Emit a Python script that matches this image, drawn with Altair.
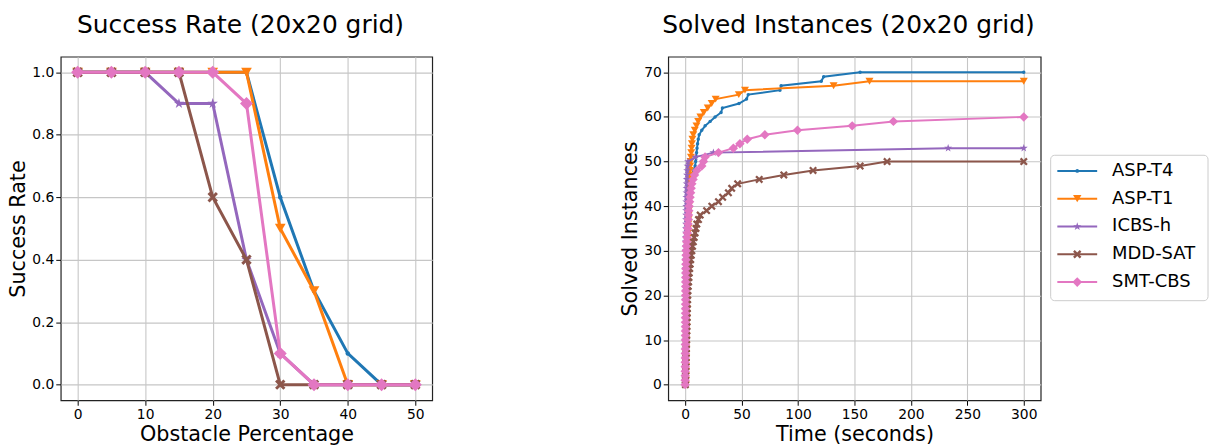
import altair as alt
import pandas as pd

FONT = "DejaVu Sans"

# ---------------- series definitions ----------------
series = ["ASP-T4", "ASP-T1", "ICBS-h", "MDD-SAT", "SMT-CBS"]
colors = ["#1f77b4", "#ff7f0e", "#9467bd", "#8c564b", "#e377c2"]
X_PATH = "M-1,-0.6L-0.6,-1L0,-0.4L0.6,-1L1,-0.6L0.4,0L1,0.6L0.6,1L0,0.4L-0.6,1L-1,0.6L-0.4,0Z"
STAR_PATH = ("M0,-1L0.2245,-0.309L0.951,-0.309L0.3633,0.118L0.5878,0.809L0,0.382"
             "L-0.5878,0.809L-0.3633,0.118L-0.951,-0.309L-0.2245,-0.309Z")
shapes = ["circle", "triangle-down", STAR_PATH, X_PATH, "diamond"]

# ---------------- left panel: success rate ----------------
obstacle_pct = [0, 5, 10, 15, 20, 25, 30, 35, 40, 45, 50]
rate_asp_t4 = [1.0, 1.0, 1.0, 1.0, 1.0, 1.0, 0.6, 0.3, 0.1, 0.0, 0.0]
rate_asp_t1 = [1.0, 1.0, 1.0, 1.0, 1.0, 1.0, 0.5, 0.3, 0.0, 0.0, 0.0]
rate_icbs_h = [1.0, 1.0, 1.0, 0.9, 0.9, 0.4, 0.1, 0.0, 0.0, 0.0, 0.0]
rate_mdd_sat = [1.0, 1.0, 1.0, 1.0, 0.6, 0.4, 0.0, 0.0, 0.0, 0.0, 0.0]
rate_smt_cbs = [1.0, 1.0, 1.0, 1.0, 1.0, 0.9, 0.1, 0.0, 0.0, 0.0, 0.0]
rates = [rate_asp_t4, rate_asp_t1, rate_icbs_h, rate_mdd_sat, rate_smt_cbs]

# ---------------- right panel: solved instances over time ----------------
time_asp_t4 = [0.5, 0.55, 0.6, 0.65, 0.7, 0.75, 0.8, 0.85, 0.9, 0.95, 1.0, 1.05, 1.1, 1.15, 1.2,
               1.25, 1.3, 1.35, 1.4, 1.45, 1.5, 1.55, 1.6, 1.65, 1.7, 1.75, 1.8, 1.85, 1.9, 1.95,
               2.0, 2.1, 2.2, 2.3, 2.4, 2.5, 2.6, 2.7, 2.8, 2.9, 3.0, 3.1, 3.2, 3.3, 3.4, 3.6,
               4.0, 5.5, 7.5, 8.8, 9.3, 9.7, 10.1, 10.5, 11.0, 11.6, 12.4, 14.7, 17.7, 22.1,
               26.5, 31.8, 33.0, 47.7, 54.4, 55.9, 84.0, 85.0, 120.6, 122.7, 155.0, 300.0]
solved_asp_t4 = [0, 1, 2, 3, 4, 5, 6, 7, 8, 9, 10, 11, 12, 13, 14, 15, 16, 17, 18, 19, 20, 21,
                 22, 23, 24, 25, 26, 27, 28, 29, 30, 31, 32, 33, 34, 35, 36, 37, 38, 39, 40, 41,
                 42, 43, 44, 45, 46, 47, 48, 49, 50, 51, 52, 53, 54, 55, 56, 57, 58, 59, 60, 61,
                 62, 63, 64, 65, 66, 67, 68, 69, 70, 70]

time_asp_t1 = [0.6, 0.65, 0.7, 0.75, 0.8, 0.85, 0.9, 0.95, 1.0, 1.05, 1.1, 1.15, 1.2, 1.25, 1.3,
               1.35, 1.4, 1.45, 1.5, 1.55, 1.6, 1.65, 1.7, 1.75, 1.8, 1.85, 1.9, 1.95, 2.0, 2.1,
               2.2, 2.3, 2.4, 2.5, 2.6, 2.7, 2.8, 2.9, 3.0, 3.1, 3.2, 3.3, 3.4, 3.5, 3.6, 3.7,
               3.8, 4.0, 4.2, 4.5, 4.8, 5.1, 5.4, 5.7, 6.0, 6.4, 7.2, 8.5, 10.0, 11.5, 13.5,
               16.5, 20.0, 23.5, 27.0, 47.5, 53.0, 131.5, 163.3, 300.0]
solved_asp_t1 = [0, 1, 2, 3, 4, 5, 6, 7, 8, 9, 10, 11, 12, 13, 14, 15, 16, 17, 18, 19, 20, 21,
                 22, 23, 24, 25, 26, 27, 28, 29, 30, 31, 32, 33, 34, 35, 36, 37, 38, 39, 40, 41,
                 42, 43, 44, 45, 46, 47, 48, 49, 50, 51, 52, 53, 54, 55, 56, 57, 58, 59, 60, 61,
                 62, 63, 64, 65, 66, 67, 68, 68]

time_icbs_h = [0.0, 0.02, 0.04, 0.05, 0.06, 0.07, 0.08, 0.09, 0.1, 0.11, 0.12, 0.13, 0.14, 0.15,
               0.16, 0.17, 0.18, 0.19, 0.2, 0.22, 0.24, 0.26, 0.28, 0.3, 0.32, 0.34, 0.36, 0.38,
               0.4, 0.43, 0.46, 0.5, 0.54, 0.58, 0.62, 0.66, 0.7, 0.75, 0.8, 0.85, 0.9, 0.95,
               1.0, 1.1, 1.2, 1.3, 1.4, 1.6, 1.8, 2.1, 2.5, 9.0, 25.0, 233.0, 300.0]
solved_icbs_h = [0, 1, 2, 3, 4, 5, 6, 7, 8, 9, 10, 11, 12, 13, 14, 15, 16, 17, 18, 19, 20, 21,
                 22, 23, 24, 25, 26, 27, 28, 29, 30, 31, 32, 33, 34, 35, 36, 37, 38, 39, 40, 41,
                 42, 43, 44, 45, 46, 47, 48, 49, 50, 51, 52, 53, 53]

time_mdd_sat = [0.2, 0.3, 0.4, 0.5, 0.6, 0.7, 0.8, 0.9, 1.0, 1.1, 1.2, 1.3, 1.4, 1.5, 1.6, 1.7,
                1.8, 1.9, 2.0, 2.1, 2.2, 2.4, 2.7, 3.0, 3.3, 3.6, 4.0, 4.4, 4.9, 5.4, 5.9, 6.5,
                7.2, 8.0, 8.8, 9.6, 10.3, 11.8, 13.3, 19.0, 23.6, 29.5, 33.2, 38.3, 41.2, 46.5,
                65.6, 87.4, 113.3, 155.0, 178.9, 300.0]
solved_mdd_sat = [0, 1, 2, 3, 4, 5, 6, 7, 8, 9, 10, 11, 12, 13, 14, 15, 16, 17, 18, 19, 20, 21,
                  22, 23, 24, 25, 26, 27, 28, 29, 30, 31, 32, 33, 34, 35, 36, 37, 38, 39, 40, 41,
                  42, 43, 44, 45, 46, 47, 48, 49, 50, 50]

time_smt_cbs = [0.0, 0.02, 0.04, 0.06, 0.08, 0.1, 0.12, 0.14, 0.16, 0.18, 0.2, 0.22, 0.24, 0.26,
                0.28, 0.3, 0.32, 0.34, 0.36, 0.38, 0.4, 0.42, 0.44, 0.46, 0.48, 0.5, 0.55, 0.6,
                0.7, 0.8, 0.9, 1.1, 1.3, 1.6, 1.9, 2.3, 2.6, 2.8, 3.0, 3.2, 3.5, 3.9, 4.3, 4.8,
                5.3, 5.9, 7.0, 8.3, 10.3, 14.7, 16.2, 17.6, 29.5, 42.7, 48.5, 55.0, 70.6, 99.5,
                148.0, 184.5, 300.0]
solved_smt_cbs = [0, 1, 2, 3, 4, 5, 6, 7, 8, 9, 10, 11, 12, 13, 14, 15, 16, 17, 18, 19, 20, 21,
                  22, 23, 24, 25, 26, 27, 28, 29, 30, 31, 32, 33, 34, 35, 36, 37, 38, 39, 40, 41,
                  42, 43, 44, 45, 46, 47, 48, 49, 50, 51, 52, 53, 54, 55, 56, 57, 58, 59, 60]

times = [time_asp_t4, time_asp_t1, time_icbs_h, time_mdd_sat, time_smt_cbs]
solved = [solved_asp_t4, solved_asp_t1, solved_icbs_h, solved_mdd_sat, solved_smt_cbs]

# ---------------- styling ----------------
left_sizes = [20, 115, 120, 110, 170]
right_sizes = [12, 64, 70, 64, 90]
legend_sizes = [14, 70, 75, 70, 95]
TITLE_SIZE = 25
AXIS_TITLE_SIZE = 20.8
LABEL_SIZE = 13.9
VIEW_H = 345

# ---------------- left chart ----------------
lx = alt.X("pct:Q", scale=alt.Scale(domain=[-2.5, 52.5], nice=False, zero=False),
           axis=alt.Axis(values=[0, 10, 20, 30, 40, 50], title="Obstacle Percentage", format="d"))
ly = alt.Y("rate:Q", scale=alt.Scale(domain=[-0.05, 1.05], nice=False, zero=False),
           axis=alt.Axis(values=[0.0, 0.2, 0.4, 0.6, 0.8, 1.0], title="Success Rate", format=".1f"))

left_layers = []
for name, col, shp, sz, vals in zip(series, colors, shapes, left_sizes, rates):
    df = pd.DataFrame({"pct": obstacle_pct, "rate": vals})
    base = alt.Chart(df).encode(x=lx, y=ly)
    left_layers.append(base.mark_line(color=col, strokeWidth=3))
    left_layers.append(base.mark_point(filled=True, shape=shp, size=sz, color=col, opacity=1))

left = alt.layer(*left_layers).properties(
    width=373, height=VIEW_H,
    title=alt.TitleParams("Success Rate (20x20 grid)", dx=-6))

# ---------------- right chart ----------------
rx = alt.X("t:Q", scale=alt.Scale(domain=[-15, 315], nice=False, zero=False),
           axis=alt.Axis(values=[0, 50, 100, 150, 200, 250, 300], title="Time (seconds)", format="d"))
ry = alt.Y("n:Q", scale=alt.Scale(domain=[-3.5, 73.5], nice=False, zero=False),
           axis=alt.Axis(values=[0, 10, 20, 30, 40, 50, 60, 70], title="Solved Instances", format="d"))

right_layers = []
for name, col, shp, sz, tv, nv in zip(series, colors, shapes, right_sizes, times, solved):
    df = pd.DataFrame({"t": tv, "n": nv})
    base = alt.Chart(df).encode(x=rx, y=ry)
    right_layers.append(base.mark_line(color=col, strokeWidth=2))
    right_layers.append(base.mark_point(filled=True, shape=shp, size=sz, color=col, opacity=1))

# ---------------- legend, drawn beside the right panel ----------------
legend_rows_y = [114.7, 142.6, 170.5, 198.4, 226.3]   # pixel rows inside the legend frame
one = pd.DataFrame({"k": [0]})
legend_layers = [
    alt.Chart(one).mark_rect(fill="white", stroke="#cccccc", strokeWidth=1, cornerRadius=4)
    .encode(x=alt.value(384), x2=alt.value(542), y=alt.value(99), y2=alt.value(245))
]
for name, col, shp, sz, yy in zip(series, colors, shapes, legend_sizes, legend_rows_y):
    d = pd.DataFrame({"series": [name]})
    legend_layers.append(alt.Chart(d).mark_rule(color=col, strokeWidth=2).encode(
        x=alt.value(390.7), x2=alt.value(430.7), y=alt.value(yy)))
    legend_layers.append(alt.Chart(d).mark_point(filled=True, shape=shp, size=sz, color=col, opacity=1)
                         .encode(x=alt.value(410.7), y=alt.value(yy)))
    legend_layers.append(alt.Chart(d).mark_text(align="left", baseline="middle", font=FONT,
                                                fontSize=18, color="black")
                         .encode(x=alt.value(445.7), y=alt.value(yy), text="series:N"))

right = alt.layer(*right_layers, *legend_layers).properties(
    width=374, height=VIEW_H,
    title=alt.TitleParams("Solved Instances (20x20 grid)", dx=-6))

chart = alt.hconcat(left, right, spacing=186).properties(
    padding={"left": 7, "top": 11, "right": 0, "bottom": 0}
).configure_axis(
    labelFont=FONT, labelFontSize=LABEL_SIZE, labelColor="black",
    titleFont=FONT, titleFontSize=AXIS_TITLE_SIZE, titleFontWeight="normal", titleColor="black",
    tickColor="black", tickSize=5, tickWidth=1, labelPadding=2, titlePadding=3,
    domain=False, gridColor="#c6c6c6", gridWidth=1.1, labelFlush=False, labelOverlap=False,
).configure_view(
    stroke="#222222", strokeWidth=1.2
).configure_title(
    font=FONT, fontSize=TITLE_SIZE, fontWeight="normal", color="black", anchor="middle", offset=19
)

chart.save("out.html", embed_options={"renderer": "svg", "actions": False})
